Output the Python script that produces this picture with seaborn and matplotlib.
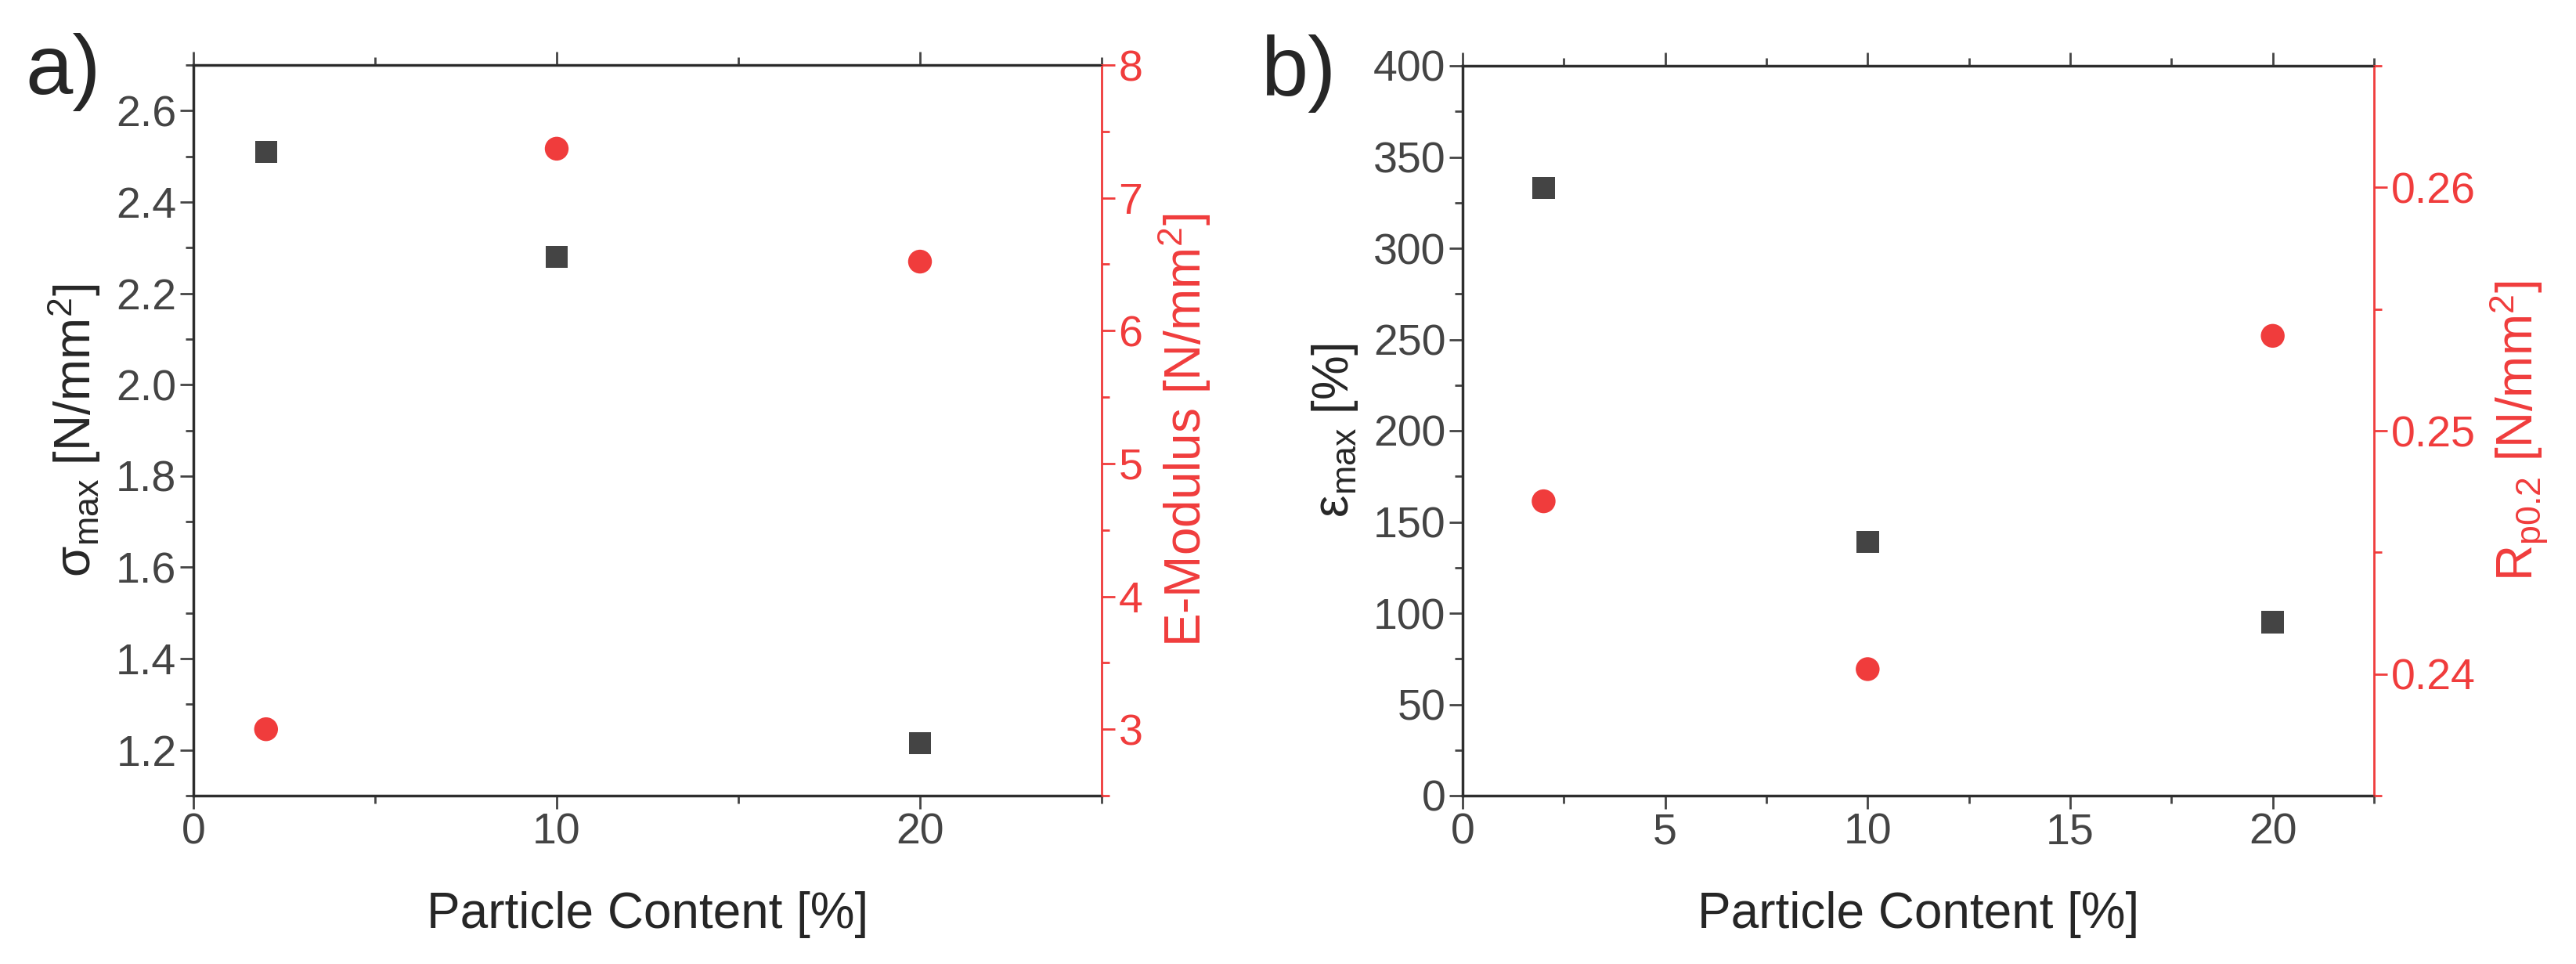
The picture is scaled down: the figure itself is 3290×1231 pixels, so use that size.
import pandas as pd
import seaborn as sns
import matplotlib.pyplot as plt
from matplotlib.ticker import MultipleLocator

# ---- data ----
content = [2, 10, 20]
sigma_max = [2.51, 2.28, 1.215]      # N/mm2
e_modulus = [3.0, 7.37, 6.52]        # N/mm2
eps_max = [333, 139, 95]             # %
rp02 = [0.2471, 0.2402, 0.2539]      # N/mm2

GRAY = "#444444"
RED = "#f03c3c"

sns.set_style("ticks")
plt.rcParams["font.family"] = ["Liberation Sans", "DejaVu Sans"]

W, H = 3291, 1231
fig = plt.figure(figsize=(W / 100, H / 100), dpi=100)


def place(left, right, top, bottom):
    return fig.add_axes([left / W, 1 - bottom / H, (right - left) / W, (bottom - top) / H])


ax_a = place(247, 1407, 83, 1016)
ax_b = place(1868, 3032, 84, 1016)

TICK = 40
LAB = 46
SQ = 420
CI = 480


def style_left(ax):
    ax.tick_params(axis="both", which="both", direction="out", labelsize=TICK,
                   labelcolor=GRAY, width=2, color=GRAY)
    ax.tick_params(which="major", length=12)
    ax.tick_params(which="minor", length=7)
    ax.tick_params(axis="x", which="both", top=True)
    for s in ["left", "bottom", "top"]:
        ax.spines[s].set_linewidth(2.5)
        ax.spines[s].set_color("#333333")


def style_right(ax2):
    ax2.tick_params(axis="y", which="both", direction="out", labelsize=TICK,
                    labelcolor=RED, color=RED, width=2)
    ax2.tick_params(which="major", length=12)
    ax2.tick_params(which="minor", length=7)
    ax2.spines["right"].set_color(RED)
    ax2.spines["right"].set_linewidth(2)
    ax2.set_xlabel("")


# ---- panel a ----
df_a = pd.DataFrame({"x": content, "sigma": sigma_max, "E": e_modulus})
sns.scatterplot(data=df_a, x="x", y="sigma", marker="s", s=SQ, color=GRAY,
                edgecolor="none", ax=ax_a, zorder=3)
ax_a.set_xlim(0, 25)
ax_a.set_ylim(1.1, 2.7)
ax_a.xaxis.set_major_locator(MultipleLocator(10))
ax_a.xaxis.set_minor_locator(MultipleLocator(5))
ax_a.yaxis.set_major_locator(MultipleLocator(0.2))
ax_a.yaxis.set_minor_locator(MultipleLocator(0.1))
ax_a.yaxis.set_major_formatter(plt.FormatStrFormatter("%.1f"))
ax_a.set_xlabel("Particle Content [%]", fontsize=LAB, labelpad=35)
ax_a.set_ylabel(r"$\mathregular{\sigma_{max}}$ [N/mm$\mathregular{^2}$]", fontsize=LAB, labelpad=12)
style_left(ax_a)

ax_a2 = ax_a.twinx()
sns.scatterplot(data=df_a, x="x", y="E", marker="o", s=CI, color=RED,
                edgecolor="none", ax=ax_a2, zorder=3)
ax_a2.set_ylim(2.5, 8)
ax_a2.yaxis.set_major_locator(MultipleLocator(1))
ax_a2.yaxis.set_minor_locator(MultipleLocator(0.5))
ax_a2.set_ylabel("E-Modulus [N/mm$\\mathregular{^2}$]", fontsize=LAB, color=RED, labelpad=12)
style_right(ax_a2)

# ---- panel b ----
df_b = pd.DataFrame({"x": content, "eps": eps_max, "rp": rp02})
sns.scatterplot(data=df_b, x="x", y="eps", marker="s", s=SQ, color=GRAY,
                edgecolor="none", ax=ax_b, zorder=3)
ax_b.set_xlim(0, 22.5)
ax_b.set_ylim(0, 400)
ax_b.xaxis.set_major_locator(MultipleLocator(5))
ax_b.xaxis.set_minor_locator(MultipleLocator(2.5))
ax_b.yaxis.set_major_locator(MultipleLocator(50))
ax_b.yaxis.set_minor_locator(MultipleLocator(25))
ax_b.set_xlabel("Particle Content [%]", fontsize=LAB, labelpad=35)
ax_b.set_ylabel(r"$\mathregular{\epsilon_{max}}$ [%]", fontsize=LAB, labelpad=12)
style_left(ax_b)

ax_b2 = ax_b.twinx()
sns.scatterplot(data=df_b, x="x", y="rp", marker="o", s=CI, color=RED,
                edgecolor="none", ax=ax_b2, zorder=3)
ax_b2.set_ylim(0.235, 0.265)
ax_b2.yaxis.set_major_locator(MultipleLocator(0.01))
ax_b2.yaxis.set_minor_locator(MultipleLocator(0.005))
ax_b2.yaxis.set_major_formatter(plt.FormatStrFormatter("%.2f"))
ax_b2.set_ylabel("R$\\mathregular{_{p0.2}}$ [N/mm$\\mathregular{^2}$]", fontsize=LAB, color=RED, labelpad=12)
style_right(ax_b2)

fig.text(32 / W, 1 - 120 / H, "a)", fontsize=78, ha="left", va="baseline")
fig.text(1610 / W, 1 - 122 / H, "b)", fontsize=78, ha="left", va="baseline")

fig.savefig("out.png", dpi=100)
